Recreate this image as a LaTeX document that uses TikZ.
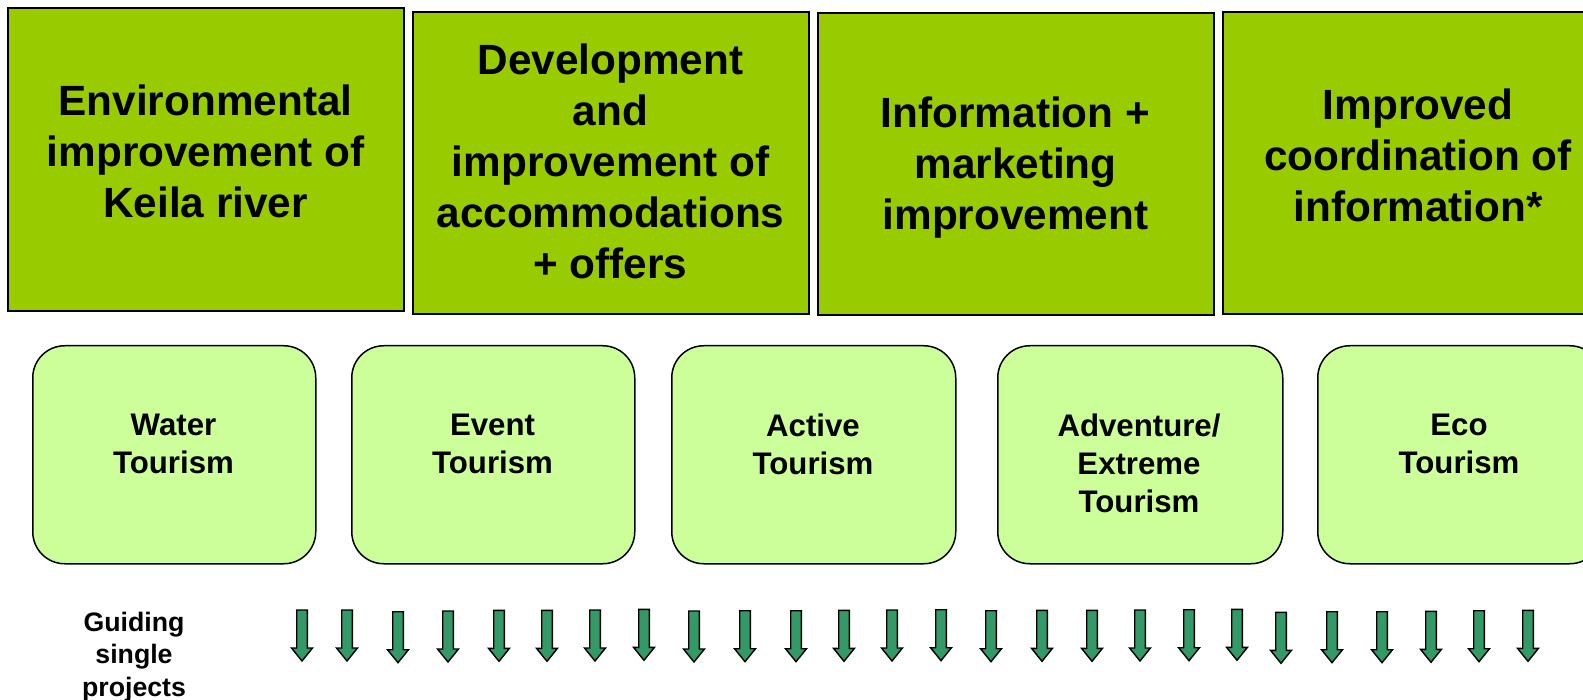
\documentclass[tikz,border=0pt]{standalone}
\usepackage{fontspec}
\setmainfont{Liberation Sans}
\definecolor{topgreen}{HTML}{99CC00}
\definecolor{lightgreen}{HTML}{CCFF99}
\definecolor{arrowgreen}{HTML}{339966}
\begin{document}
\begin{tikzpicture}[x=1pt,y=-1pt,
  topbox/.style={draw=black, line width=1.8pt, fill=topgreen, anchor=north west, inner sep=0pt, minimum height=302pt},
  toptext/.style={anchor=north, align=center, inner sep=0pt, font=\fontsize{42.3}{51}\selectfont\bfseries},
  tourbox/.style={draw=black, line width=1.5pt, fill=lightgreen, rounded corners=32pt, anchor=north west, minimum height=218pt, inner sep=0pt},
  tourtext/.style={anchor=north, align=center, inner sep=0pt, font=\fontsize{31.2}{38}\selectfont\bfseries},
  guidetext/.style={anchor=north, align=center, inner sep=0pt, font=\fontsize{26.7}{32.5}\selectfont\bfseries},
  blockarrow/.style={draw=black, line width=1.4pt, fill=arrowgreen, line join=miter}]
\useasboundingbox (0,0) rectangle (1583,700);
\clip (0,0) rectangle (1583,700);
% top boxes
\node[topbox, minimum width=396pt, minimum height=303pt] (t1) at (7,7) {};
\node[topbox, minimum width=396pt] (t2) at (412,11) {};
\node[topbox, minimum width=396pt] (t3) at (817,12) {};
\node[topbox, minimum width=395pt] (t4) at (1222,11) {};
\node[toptext] (t1txt) at (205.5,85) {Environmental\\improvement of\\Keila river};
\node[toptext] (t2txt) at (610.5,43.5) {Development\\and\\improvement of\\accommodations\\+ offers};
\node[toptext] (t3txt) at (1015.5,97) {Information +\\marketing\\improvement};
\node[toptext] (t4txt) at (1418,88.5) {Improved\\coordination of\\information*};
% tourism boxes
\node[tourbox, minimum width=283pt] (b1) at (32,345) {};
\node[tourbox, minimum width=283pt] (b2) at (351,345) {};
\node[tourbox, minimum width=284pt] (b3) at (671,345) {};
\node[tourbox, minimum width=285pt] (b4) at (997,345) {};
\node[tourbox, minimum width=284pt] (b5) at (1317,345) {};
\node[tourtext] (b1txt) at (173.5,414) {Water\\Tourism};
\node[tourtext] (b2txt) at (492.5,414) {Event\\Tourism};
\node[tourtext] (b3txt) at (813,414) {Active\\Tourism};
\node[tourtext] (b4txt) at (1139,414) {Adventure/\\Extreme\\Tourism};
\node[tourtext] (b5txt) at (1459,414) {Eco\\Tourism};
% guiding projects
\node[guidetext] (guide) at (134,611.5) {Guiding\\single\\projects};
\foreach \x/\t in {302/610,347/610,398/611.7,448/611,499/610.3,547/610.3,595/610,644/609.3,694/611,745/610.7,796/610.7,844/610.3,892/610,941/609.7,991/610.7,1042/610.3,1092/610.3,1140/610,1189/609.7,1237/609.3,1281/612.3,1332/611.7,1382/611.7,1431/611.3,1479/610.7,1528/610.3}{
  \draw[blockarrow] (\x-5.3,\t) -- (\x+5.3,\t) -- (\x+5.3,\t+38) -- (\x+10.5,\t+38) -- (\x,\t+51) -- (\x-10.5,\t+38) -- (\x-5.3,\t+38) -- cycle;
}
\end{tikzpicture}
\end{document}
